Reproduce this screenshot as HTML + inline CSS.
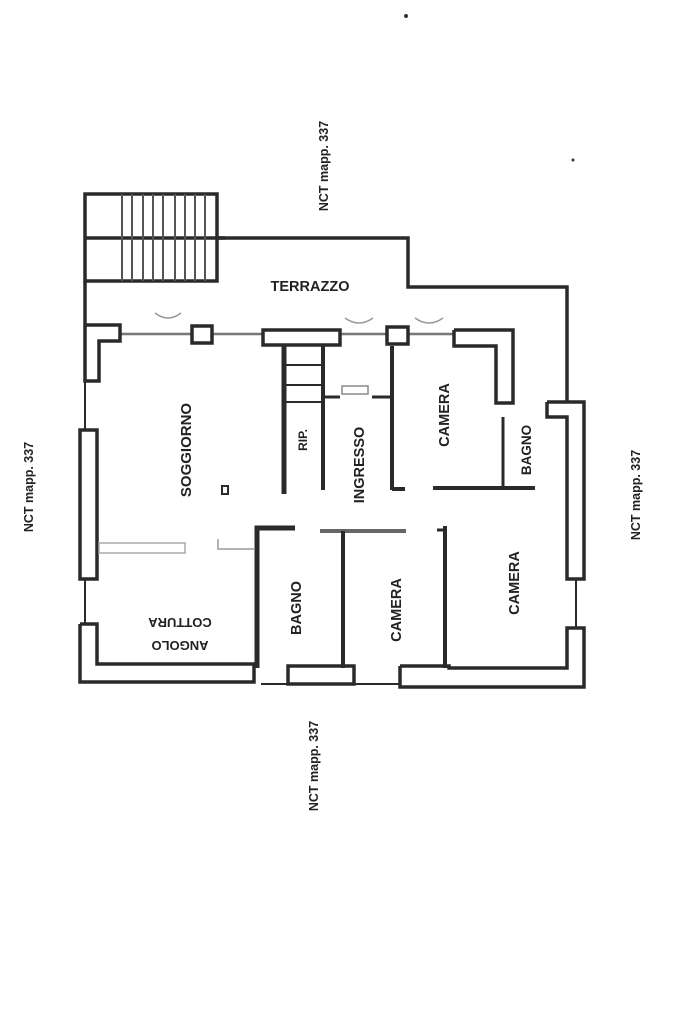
<!DOCTYPE html>
<html><head><meta charset="utf-8"><style>
html,body{margin:0;padding:0;background:#fff;}
svg{display:block}
text{font-family:"Liberation Sans",sans-serif;fill:#222;font-weight:bold}
</style></head><body>
<svg width="683" height="1024" viewBox="0 0 683 1024" xmlns="http://www.w3.org/2000/svg">
<g stroke="#2a2a2a" fill="none" stroke-width="3.5">
<!-- stairs -->
<rect x="85" y="194" width="132" height="87"/>
<line x1="85" y1="238" x2="225" y2="238"/>
<g stroke-width="2" stroke="#555">
<line x1="122" y1="194" x2="122" y2="281"/><line x1="132" y1="194" x2="132" y2="281"/>
<line x1="143" y1="194" x2="143" y2="281"/><line x1="153" y1="194" x2="153" y2="281"/>
<line x1="163" y1="194" x2="163" y2="281"/><line x1="175" y1="194" x2="175" y2="281"/>
<line x1="185" y1="194" x2="185" y2="281"/><line x1="195" y1="194" x2="195" y2="281"/>
<line x1="205" y1="194" x2="205" y2="281"/>
</g>
<!-- terrace outline -->
<polyline points="217,238 408,238 408,287 567,287 567,402"/>
<line x1="85" y1="281" x2="85" y2="325"/>
<!-- front wall -->
<line x1="99" y1="334" x2="454" y2="334" stroke="#777" stroke-width="2.5"/>
<polyline points="85,325 120,325 120,341 99,341 99,381 85,381 85,325" fill="#fff"/>
<rect x="192" y="326" width="20" height="17" fill="#fff"/>
<rect x="263" y="330" width="77" height="15" fill="#fff"/>
<rect x="387" y="327" width="21" height="17" fill="#fff"/>
<polyline points="454,330 513,330 513,403 496,403 496,346 454,346 454,330" fill="#fff"/>
<!-- left wall -->
<line x1="85" y1="381" x2="85" y2="430" stroke-width="2"/>
<rect x="80" y="430" width="17" height="149" fill="#fff"/>
<line x1="85" y1="579" x2="85" y2="626" stroke-width="2"/>
<polyline points="80,624 97,624 97,664 254,664 254,682 80,682 80,624" fill="#fff"/>
<!-- bottom -->
<rect x="288" y="666" width="66" height="18" fill="#fff"/>
<polyline points="400,666 449,666 449,668 567,668 567,628 584,628 584,687 400,687 400,666" fill="#fff"/>
<line x1="261" y1="684" x2="288" y2="684" stroke-width="2"/>
<line x1="354" y1="684" x2="400" y2="684" stroke-width="2"/>
<!-- right wall -->
<polyline points="547,402 584,402 584,579 567,579 567,417 547,417 547,402" fill="#fff"/>
<line x1="576" y1="579" x2="576" y2="628" stroke-width="2"/>
<!-- interior -->
<line x1="284" y1="346" x2="284" y2="494" stroke-width="5"/>
<line x1="323" y1="346" x2="323" y2="490" stroke-width="4"/>
<line x1="284" y1="365" x2="323" y2="365" stroke-width="2"/>
<line x1="284" y1="385" x2="323" y2="385" stroke-width="2"/>
<line x1="284" y1="402" x2="323" y2="402" stroke-width="2"/>
<line x1="323" y1="397" x2="340" y2="397" stroke-width="3"/>
<line x1="372" y1="397" x2="392" y2="397" stroke-width="3"/>
<rect x="342" y="386" width="26" height="8" stroke-width="1.5" stroke="#888"/>
<line x1="392" y1="346" x2="392" y2="490" stroke-width="4"/>
<line x1="392" y1="489" x2="405" y2="489" stroke-width="4"/>
<line x1="433" y1="488" x2="535" y2="488" stroke-width="4"/>
<line x1="503" y1="417" x2="503" y2="488" stroke-width="3"/>
<polyline points="295,528 257,528 257,668" stroke-width="5"/>
<line x1="320" y1="531" x2="406" y2="531" stroke-width="4" stroke="#666"/>
<line x1="343" y1="531" x2="343" y2="668" stroke-width="4"/>
<line x1="445" y1="526" x2="445" y2="668" stroke-width="4"/>
<line x1="437" y1="530" x2="445" y2="530" stroke-width="3"/>
<rect x="99" y="543" width="86" height="10" stroke="#aaa" stroke-width="1.5"/>
<polyline points="218,539 218,549 254,549" stroke="#999" stroke-width="1.5"/>
<rect x="222" y="486" width="6" height="8" stroke-width="2"/>
<!-- door arcs -->
<g stroke="#999" stroke-width="1.5">
<path d="M155,313 q13,10 26,0"/><path d="M345,318 q14,10 28,0"/><path d="M415,318 q14,10 28,0"/>
</g>
</g>
<g font-size="13">
<text x="310" y="291" text-anchor="middle" font-size="14.5">TERRAZZO</text>
<text transform="translate(191,450) rotate(-90)" text-anchor="middle" font-size="15">SOGGIORNO</text>
<text transform="translate(307,440) rotate(-90)" text-anchor="middle" font-size="12">RIP.</text>
<text transform="translate(364,465) rotate(-90)" text-anchor="middle" font-size="14.5" fill="#555">INGRESSO</text>
<text transform="translate(449,415) rotate(-90)" text-anchor="middle" font-size="14.5">CAMERA</text>
<text transform="translate(531,450) rotate(-90)" text-anchor="middle" font-size="13.5" fill="#666">BAGNO</text>
<text transform="translate(519,583) rotate(-90)" text-anchor="middle" font-size="14.5">CAMERA</text>
<text transform="translate(401,610) rotate(-90)" text-anchor="middle" font-size="14.5">CAMERA</text>
<text transform="translate(301,608) rotate(-90)" text-anchor="middle" font-size="14.5">BAGNO</text>
<text transform="translate(180,641) rotate(180)" text-anchor="middle" font-size="13">ANGOLO</text>
<text transform="translate(180,618) rotate(180)" text-anchor="middle" font-size="13">COTTURA</text>
<text transform="translate(328,166) rotate(-90)" text-anchor="middle" font-size="12.5">NCT mapp. 337</text>
<text transform="translate(33,487) rotate(-90)" text-anchor="middle" font-size="12.5">NCT mapp. 337</text>
<text transform="translate(640,495) rotate(-90)" text-anchor="middle" font-size="12.5">NCT mapp. 337</text>
<text transform="translate(318,766) rotate(-90)" text-anchor="middle" font-size="12.5">NCT mapp. 337</text>
</g>
<circle cx="406" cy="16" r="2" fill="#333"/>
<circle cx="573" cy="160" r="1.5" fill="#333"/>
</svg>
</body></html>
